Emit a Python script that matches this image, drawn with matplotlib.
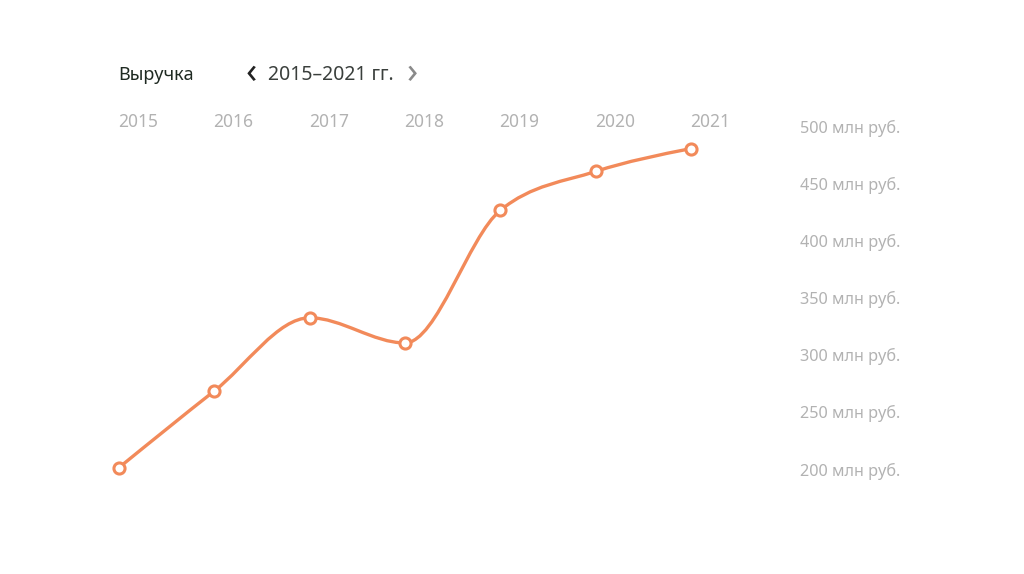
import numpy as np
import matplotlib
matplotlib.use("Agg")
import matplotlib.pyplot as plt
from matplotlib.path import Path
from matplotlib.patches import PathPatch
import matplotlib.transforms as mtransforms

plt.rcParams['font.family'] = ['Noto Sans', 'DejaVu Sans']

years = [2015, 2016, 2017, 2018, 2019, 2020, 2021]
revenue = [203, 270, 334, 312, 428, 462, 482]
ytick_values = [200, 250, 300, 350, 400, 450, 500]
ytick_labels = [f"{v} млн руб." for v in ytick_values]
title = "Выручка"
period = "2015–2021 гг."

LINE = "#f28a5a"
GRAY = "#b2b2b2"

fig = plt.figure(figsize=(10.24, 5.74), dpi=100)
fig.patch.set_facecolor("white")
W, H = 1024, 574
ax = fig.add_axes([119 / W, (H - 471) / H, 572 / W, 343 / H])
ax.set_xlim(years[0], years[-1])
ax.set_ylim(200, 500)
ax.axis("off")

# monotone cubic (monotoneX) path through the points
x = np.array(years, float)
y = np.array(revenue, float)
n = len(x)
h = np.diff(x)
s = np.diff(y) / h
m = np.zeros(n)
for i in range(1, n - 1):
    p = (s[i - 1] * h[i] + s[i] * h[i - 1]) / (h[i - 1] + h[i])
    m[i] = (np.sign(s[i - 1]) + np.sign(s[i])) * min(abs(s[i - 1]), abs(s[i]), 0.5 * abs(p))
m[0] = (3 * s[0] - m[1]) / 2
m[-1] = (3 * s[-1] - m[-2]) / 2
verts = [(x[0], y[0])]
codes = [Path.MOVETO]
for i in range(n - 1):
    dx = h[i] / 3
    verts += [(x[i] + dx, y[i] + m[i] * dx), (x[i + 1] - dx, y[i + 1] - m[i + 1] * dx), (x[i + 1], y[i + 1])]
    codes += [Path.CURVE4] * 3
ax.add_patch(PathPatch(Path(verts, codes), facecolor="none", edgecolor=LINE, lw=2.4,
                       capstyle="round", joinstyle="round", clip_on=False, zorder=2))
ax.plot(years, revenue, "o", ms=8, mfc="white", mec=LINE, mew=2.2, clip_on=False, zorder=3)

# year labels on top
off = mtransforms.ScaledTranslation(19 / 100, 0, fig.dpi_scale_trans)
trans_top = mtransforms.blended_transform_factory(ax.transData, fig.transFigure) + off
for yr in years:
    ax.text(yr, 1 - 122 / H, str(yr), transform=trans_top, ha="center", va="center",
            fontsize=12.5, color=GRAY)

# y labels on the right
trans_r = mtransforms.blended_transform_factory(fig.transFigure, ax.transData)
for v, lab in zip(ytick_values, ytick_labels):
    ax.text(800 / W, v, lab, transform=trans_r, ha="left", va="center", fontsize=11.7,
            color=GRAY)

fig.text(118 / W, 1 - 75 / H, title, ha="left", va="center", fontsize=13, color="#1f2a22",
         fontweight="semibold")
fig.text(251 / W, 1 - 74 / H, "‹", ha="center", va="center", fontsize=26, color="#222222",
         fontweight="bold")
fig.text(268 / W, 1 - 75 / H, period, ha="left", va="center", fontsize=14, color="#3a3f3c")
fig.text(412 / W, 1 - 74 / H, "›", ha="center", va="center", fontsize=26, color="#8a8a8a")

fig.savefig("out.png", dpi=100, facecolor="white")
